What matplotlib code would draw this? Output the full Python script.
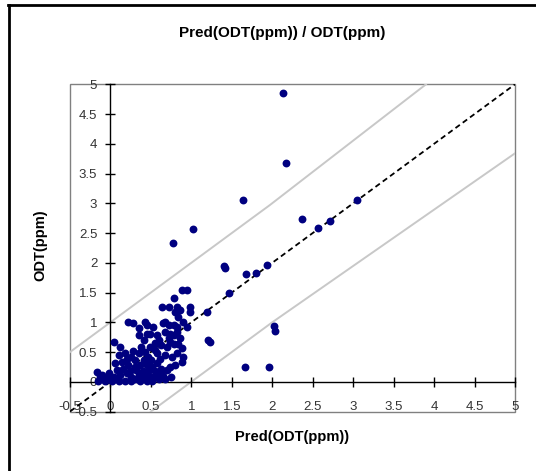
import matplotlib

matplotlib.use("Agg")
import matplotlib.pyplot as plt
from matplotlib.lines import Line2D
from matplotlib.patches import Rectangle
from matplotlib.ticker import FuncFormatter, MultipleLocator

TITLE = "Pred(ODT(ppm)) / ODT(ppm)"
X_LABEL = "Pred(ODT(ppm))"
Y_LABEL = "ODT(ppm)"

# predicted vs measured odour threshold (ppm)
pred = [
    2.13, 2.17, 1.64, 3.05, 0.77, 1.02, 2.37, 2.56, 2.71, 1.40, 1.41, 1.68, 1.80, 1.93,
    1.47, 1.19, 1.21, 1.23, 2.02, 2.03, 1.66, 1.96,
    0.88, 0.94, 0.79, 0.64, 0.72, 0.82, 0.80, 0.86, 0.84, 0.98, 0.98,
    0.22, 0.28, 0.43, 0.45, 0.53, 0.35, 0.35, 0.65, 0.67, 0.72, 0.78, 0.82, 0.90, 0.94,
    0.45, 0.49, 0.41, 0.57, 0.67, 0.74, 0.78, 0.82,
    0.04, 0.12, 0.72, 0.74, 0.78, 0.86, 0.84, 0.88, 0.63, 0.70, 0.49, 0.55,
    0.10, 0.18, 0.26, 0.35, 0.43, 0.47, 0.41, 0.57, 0.61, 0.67, 0.76, 0.82, 0.90, 0.88,
    0.06, 0.14, 0.22, 0.30, 0.37, 0.45, 0.51, 0.57, 0.63, 0.70, 0.74, 0.80, 0.63, 0.65,
    -0.17, -0.11, -0.02, 0.04, 0.12, 0.20, 0.26, 0.35, 0.41, 0.47, 0.53, 0.57,
    -0.15, -0.07, 0.02, 0.10, 0.18, 0.26, 0.37, 0.45, 0.51, -0.13, -0.07,
    0.16, 0.24, 0.32, 0.40, 0.48, 0.55, 0.30, 0.20, 0.50, 0.28, 0.38, 0.60, 0.55,
    0.08, 0.00, 0.30, 0.60, 0.68, 0.75,
]
odt = [
    4.85, 3.67, 3.05, 3.05, 2.33, 2.57, 2.73, 2.58, 2.71, 1.94, 1.92, 1.81, 1.82, 1.96,
    1.49, 1.18, 0.70, 0.67, 0.94, 0.85, 0.25, 0.25,
    1.54, 1.54, 1.40, 1.26, 1.26, 1.26, 1.18, 1.20, 1.09, 1.26, 1.18,
    1.01, 0.98, 1.01, 0.95, 0.92, 0.90, 0.78, 0.98, 1.01, 0.95, 0.95, 0.92, 1.01, 0.92,
    0.81, 0.81, 0.70, 0.78, 0.84, 0.81, 0.78, 0.84,
    0.67, 0.59, 0.73, 0.67, 0.64, 0.73, 0.64, 0.56, 0.62, 0.59, 0.59, 0.53,
    0.45, 0.48, 0.42, 0.48, 0.50, 0.42, 0.36, 0.48, 0.39, 0.45, 0.42, 0.48, 0.42, 0.34,
    0.31, 0.34, 0.28, 0.25, 0.28, 0.28, 0.25, 0.31, 0.22, 0.20, 0.25, 0.28, 0.14, 0.10,
    0.17, 0.11, 0.14, 0.08, 0.11, 0.14, 0.08, 0.11, 0.07, 0.11, 0.08, 0.14,
    0.02, 0.01, 0.02, 0.01, 0.02, 0.01, 0.02, 0.01, 0.02, 0.08, 0.06,
    0.22, 0.18, 0.20, 0.18, 0.20, 0.18, 0.36, 0.38, 0.36, 0.52, 0.58, 0.70, 0.66,
    0.20, 0.05, 0.05, 0.05, 0.05, 0.08,
]

# reference lines: y = x and the +/- 1 ppm band
ident = [-0.5, 5.0]
upper_x = [-0.5, 1.97, 3.9]
upper_y = [0.5, 2.97, 5.0]
lower_x = [0.5, 2.0, 5.0]
lower_y = [-0.5, 1.0, 3.84]

AX_MIN, AX_MAX = -0.5, 5.0

plt.rcParams.update(
    {
        "font.family": ["Liberation Sans", "DejaVu Sans"],
        "font.size": 9.5,
    }
)

fig = plt.figure(figsize=(5.36, 4.71), dpi=100)
ax = fig.add_axes([0.1306, 0.1263, 0.8302, 0.6947])

ax.plot(upper_x, upper_y, color="#c8c8c8", lw=1.4, zorder=1)
ax.plot(lower_x, lower_y, color="#c8c8c8", lw=1.4, zorder=1)
ax.plot(ident, ident, color="black", lw=1.3, ls=(0, (3, 2)), zorder=3)
ax.scatter(pred, odt, s=32, color="#000080", linewidths=0, zorder=4)

ax.set_xlim(AX_MIN, AX_MAX)
ax.set_ylim(AX_MIN, AX_MAX)

ax.spines["left"].set_position(("data", 0))
ax.spines["bottom"].set_position(("data", 0))
ax.spines["top"].set_visible(False)
ax.spines["right"].set_visible(False)
for side in ("left", "bottom"):
    ax.spines[side].set_linewidth(1.0)
    ax.spines[side].set_color("black")

# grey plot-area border as in the spreadsheet chart
ax.add_patch(Rectangle((0, 0), 1, 1, transform=ax.transAxes, fill=False,
                       edgecolor="#808080", lw=1.0, clip_on=False, zorder=0))

fmt = FuncFormatter(lambda v, _: f"{v:g}")
for axis in (ax.xaxis, ax.yaxis):
    axis.set_major_locator(MultipleLocator(0.5))
    axis.set_major_formatter(fmt)
ax.tick_params(direction="inout", length=7, width=1.0, colors="black",
               labelcolor="#333333", labelsize=9.5)
ax.tick_params(axis="y", pad=6)
ax.tick_params(axis="x", pad=10)

fig.text(0.527, 0.93, TITLE, ha="center", va="center", fontsize=11, fontweight="bold")
fig.text(0.545, 0.072, X_LABEL, ha="center", va="center", fontsize=10.5, fontweight="bold")
fig.text(0.075, 0.48, Y_LABEL, ha="center", va="center", fontsize=10.5, fontweight="bold",
         rotation=90)

# outer chart frame (left and top edges visible)
fig.add_artist(Line2D([0.0164, 0.0164], [0.0, 0.9894], transform=fig.transFigure,
                      color="black", lw=2.0))
fig.add_artist(Line2D([0.0146, 1.0], [0.9894, 0.9894], transform=fig.transFigure,
                      color="black", lw=2.0))

fig.savefig("out.png", dpi=100)
